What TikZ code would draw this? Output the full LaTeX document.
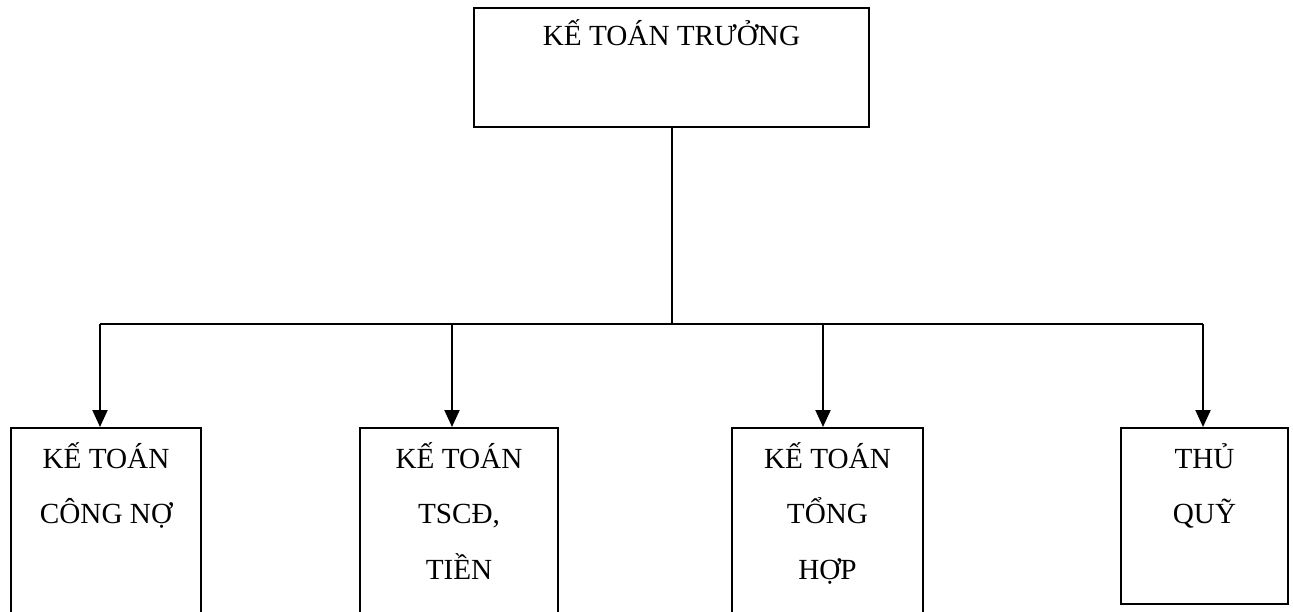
\documentclass[tikz,border=0pt]{standalone}
\usepackage{fontspec}
\setmainfont{Liberation Serif}
\usetikzlibrary{arrows.meta}
\usetikzlibrary{positioning}
\tikzset{box/.style = {draw, rectangle, line width = 1pt, inner sep = 0, anchor = north west}}
\tikzset{txt/.style = {anchor = north, inner sep = 0, align = center, font = \fontsize{14.6}{27.75}\selectfont}}
\tikzset{link/.style = {line width = 1pt}}
\tikzset{drop/.style = {line width = 1pt, -{Triangle[length = 8.5pt, width = 7.5pt]}}}
\newcommand{\firstline}{\rule{0pt}{20.5pt}}

\begin{document}
\begin{tikzpicture}[x = 0.5pt, y = -0.5pt]
      \path [use as bounding box, clip] (0, 0) rectangle (1293, 611);
      \node [box, minimum width = 197.5pt, minimum height = 59.5pt] (kt) at (473, 7) {};
      \node [box, minimum width = 95pt, minimum height = 100pt] (cn) at (10, 427) {};
      \node [box, minimum width = 99pt, minimum height = 100pt] (ts) at (359, 427) {};
      \node [box, minimum width = 95.5pt, minimum height = 100pt] (th) at (731, 427) {};
      \node [box, minimum width = 83.5pt, minimum height = 88pt] (tq) at (1120, 427) {};
      \node [txt, yshift = 1.5pt] (kt-text) at (kt.north) {\firstline KẾ TOÁN TRƯỞNG};
      \node [txt] (cn-text) at (cn.north) {\firstline KẾ TOÁN\\CÔNG NỢ};
      \node [txt] (ts-text) at (ts.north) {\firstline KẾ TOÁN\\TSCĐ,\\TIỀN};
      \node [txt] (th-text) at (th.north) {\firstline KẾ TOÁN\\TỔNG\\HỢP};
      \node [txt] (tq-text) at (tq.north) {\firstline THỦ\\QUỸ};
      \coordinate (d-cn) at (100, 324);
      \coordinate (d-ts) at (452, 324);
      \coordinate (d-th) at (823, 324);
      \coordinate (d-tq) at (1203, 324);
      \draw [link] (kt.south) -- (kt.south |- d-cn);
      \draw [link] (d-cn) -- (d-tq);
      \draw [drop] (d-cn) -- (d-cn |- cn.north);
      \draw [drop] (d-ts) -- (d-ts |- ts.north);
      \draw [drop] (d-th) -- (d-th |- th.north);
      \draw [drop] (d-tq) -- (d-tq |- tq.north);
    \end{tikzpicture}
\end{document}
